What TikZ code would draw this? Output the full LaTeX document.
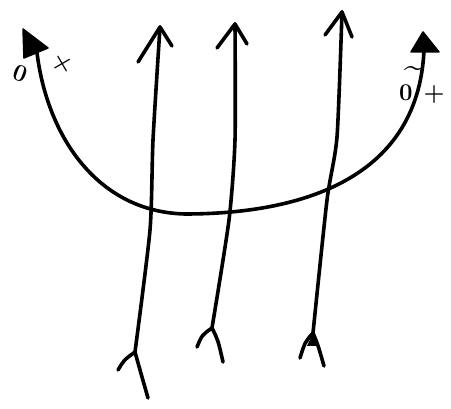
\documentclass[tikz,border=0pt]{standalone}
\begin{document}
\begin{tikzpicture}[x=1pt,y=-1pt,
  stroke/.style={line width=3.6pt,line cap=round,line join=round},
  headfill/.style={fill=black,draw=black,line width=1.5pt,line join=round},
  lbl/.style={font=\fontsize{24}{24}\selectfont\bfseries,inner sep=0pt}]
\useasboundingbox (0,0) rectangle (451,409);
% big curve
\coordinate (Lt) at (23,29);
\coordinate (Lb1) at (24,58);
\coordinate (Lb2) at (48,48);
\coordinate (Rt) at (423,32);
\coordinate (Rb1) at (411,52);
\coordinate (Rb2) at (439,52);
\fill[headfill] (Lt) -- (Lb1) -- (Lb2) -- cycle;
\fill[headfill] (Rt) -- (Rb1) -- (Rb2) -- cycle;
\coordinate (c0) at (37,53);
\coordinate (cm) at (185,214);
\coordinate (c16) at (424,50);
\draw[stroke] (c0) .. controls (48,140) and (100,212) .. (cm)
  .. controls (290,214) and (418,185) .. (c16);
% line 1
\coordinate (a1t) at (160,27);
\coordinate (a1l) at (138,62);
\coordinate (a1r) at (172,46);
\coordinate (a1n) at (153,140);
\coordinate (a1o) at (150,230);
\coordinate (a1j) at (135,352);
\coordinate (a1b) at (148,398);
\coordinate (a1f) at (118,370);
\draw[stroke] (a1l) -- (a1t) -- (a1r);
\draw[stroke] plot[smooth,tension=0.4] coordinates {(a1t) (a1n) (a1o) (a1j)};
\draw[stroke] (a1f) .. controls (124,360) .. (a1j) .. controls (140,370) .. (a1b);
% line 2
\coordinate (a2t) at (235,24);
\coordinate (a2l) at (217,48);
\coordinate (a2r) at (247,44);
\coordinate (a2n) at (235,140);
\coordinate (a2o) at (229,220);
\coordinate (a2j) at (212,328);
\coordinate (a2b) at (223,362);
\coordinate (a2f) at (197,347);
\draw[stroke] (a2l) -- (a2t) -- (a2r);
\draw[stroke] plot[smooth,tension=0.4] coordinates {(a2t) (a2n) (a2o) (a2j)};
\draw[stroke] (a2f) .. controls (202,335) .. (a2j) .. controls (218,340) .. (a2b);
% line 3
\coordinate (a3t) at (342,12);
\coordinate (a3l) at (325,35);
\coordinate (a3r) at (352,37);
\coordinate (a3n) at (337,137);
\coordinate (a3o) at (327,200);
\coordinate (a3j) at (313,333);
\coordinate (a3b) at (324,366);
\coordinate (a3f) at (300,358);
\draw[stroke] (a3l) -- (a3t) -- (a3r);
\draw[stroke] plot[smooth,tension=0.4] coordinates {(a3t) (a3n) (a3o) (a3j)};
\draw[stroke] (a3f) .. controls (305,342) .. (a3j) .. controls (318,345) .. (a3b);
\fill (a3j) -- (307,346) -- (319,346) -- cycle;
% labels
\node[lbl,rotate=-20] (lz) at (20,74) {0};
\node[lbl,rotate=30] (lp) at (63,64) {+};
\node[lbl] (rz) at (406,93) {0};
\node[font=\fontsize{36}{36}\selectfont\bfseries,inner sep=0pt] (rt) at (415,72) {\char`\~};
\node[lbl] (rp) at (434,95) {+};
\end{tikzpicture}
\end{document}
